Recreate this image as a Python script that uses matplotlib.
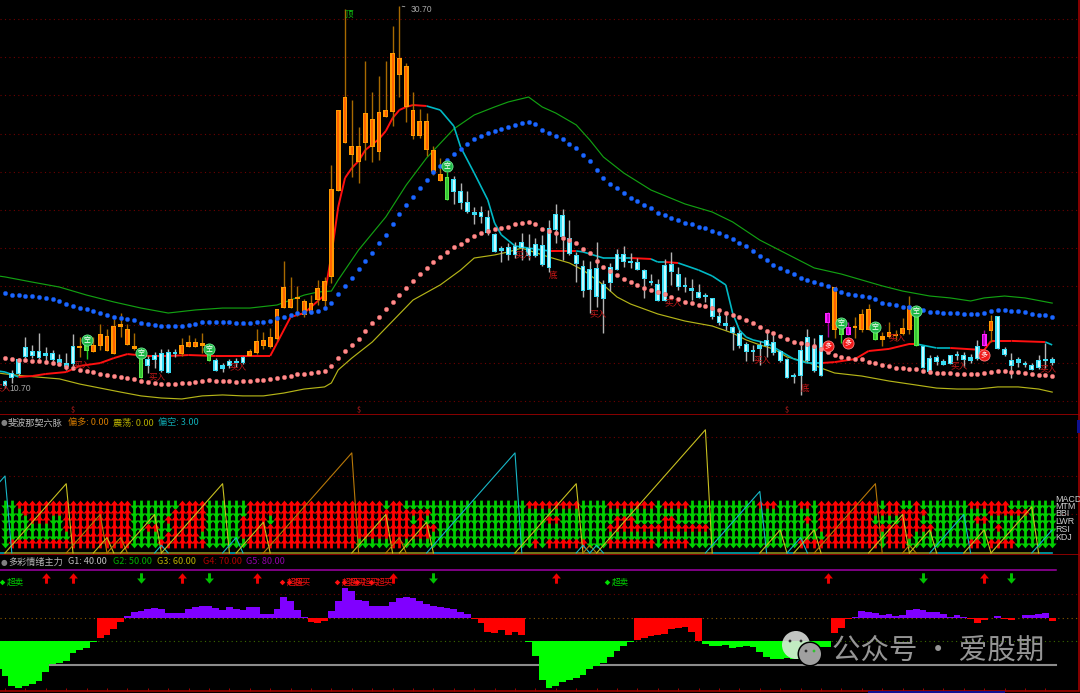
import matplotlib
matplotlib.use('Agg')
import matplotlib.pyplot as plt
import numpy as np
from matplotlib.collections import LineCollection
from matplotlib.path import Path

plt.rcParams['font.family'] = ['Noto Sans CJK SC', 'DejaVu Sans']

# candles, one value per bar
opens = [11.05, 11.47, 12.20, 12.83, 12.62, 12.62, 12.52, 12.52, 12.20, 11.99,
         12.88, 12.78, 12.94, 12.57, 12.88, 12.62, 12.46, 13.88, 12.94, 12.73,
         12.25, 12.20, 12.41, 12.52, 12.57, 12.52, 12.46, 12.83, 12.83, 12.88,
         12.52, 12.15, 11.89, 12.10, 12.04, 12.31, 12.36, 12.52, 12.88, 12.83,
         13.25, 14.87, 14.87, 15.34, 14.51, 14.61, 15.29, 15.24, 16.50, 21.00,
         23.51, 22.88, 22.52, 23.51, 23.30, 23.04, 24.87, 25.14, 27.07, 25.40,
         23.88, 23.88, 23.15, 21.99, 21.52, 21.73, 21.63, 21.00, 20.42, 19.90,
         19.90, 19.64, 18.75, 18.01, 18.07, 18.12, 18.33, 18.01, 18.22, 18.17,
         19.06, 19.79, 19.74, 18.54, 17.65, 17.07, 16.92, 16.97, 16.13, 17.02,
         17.70, 17.70, 17.33, 17.28, 16.86, 16.29, 16.13, 17.12, 17.18, 16.65,
         16.03, 15.92, 15.71, 15.50, 15.40, 14.45, 14.09, 13.88, 13.56, 12.99,
         12.67, 12.94, 13.20, 13.09, 12.62, 12.20, 11.31, 12.67, 13.35, 12.88,
         13.46, 14.61, 13.72, 13.83, 13.88, 13.83, 13.72, 13.72, 13.62, 13.20,
         13.35, 13.41, 13.51, 13.72, 14.51, 12.88, 12.25, 12.31, 12.10, 12.41,
         12.41, 12.41, 12.31, 12.88, 13.51, 13.67, 14.45, 12.73, 12.15, 12.20,
         11.99, 11.89, 12.15, 12.20, 12.20]
closes = [10.79, 11.21, 11.42, 12.31, 12.36, 12.25, 12.36, 12.15, 11.99, 11.78,
          11.94, 12.83, 12.62, 12.94, 13.51, 13.41, 13.93, 14.03, 13.77, 12.88,
          11.21, 11.84, 12.15, 11.57, 11.47, 12.46, 12.94, 13.09, 13.09, 13.04,
          12.10, 11.57, 11.68, 11.84, 11.99, 11.99, 12.62, 13.15, 13.20, 13.35,
          14.82, 15.97, 15.34, 15.40, 15.24, 15.13, 15.92, 16.29, 21.10, 25.24,
          25.92, 23.36, 23.36, 25.08, 24.77, 25.14, 25.24, 28.22, 27.96, 27.54,
          25.24, 24.66, 24.66, 23.15, 21.89, 20.53, 20.95, 20.37, 19.90, 19.74,
          19.64, 18.80, 17.81, 17.86, 17.65, 17.65, 18.01, 17.60, 17.60, 17.12,
          16.97, 18.96, 18.59, 17.70, 17.18, 15.76, 15.82, 15.45, 15.34, 16.18,
          16.86, 17.28, 17.23, 16.86, 16.39, 16.18, 15.24, 15.24, 16.76, 15.97,
          15.97, 15.76, 15.40, 15.45, 14.40, 14.09, 13.93, 13.56, 12.88, 12.57,
          12.57, 12.73, 12.88, 12.52, 12.10, 11.21, 11.26, 11.31, 12.10, 11.57,
          11.31, 14.09, 15.97, 13.46, 13.46, 13.93, 14.56, 14.82, 13.20, 13.41,
          13.62, 13.46, 13.83, 14.98, 12.88, 11.73, 11.52, 12.04, 11.89, 11.94,
          12.36, 12.15, 12.10, 12.20, 12.88, 14.19, 12.73, 12.41, 11.84, 11.99,
          11.89, 11.63, 11.73, 12.10, 11.99]
highs = [11.10, 11.63, 12.25, 13.35, 12.94, 13.56, 12.83, 12.67, 12.46, 12.52,
         13.51, 13.35, 12.94, 13.35, 14.03, 13.77, 14.30, 14.61, 14.03, 13.56,
         12.25, 12.36, 12.57, 12.73, 12.73, 12.73, 13.30, 13.46, 13.30, 13.56,
         12.52, 12.25, 11.99, 12.20, 12.25, 12.36, 12.73, 13.77, 13.62, 13.83,
         14.82, 17.33, 16.50, 16.03, 15.34, 15.55, 16.34, 16.50, 22.36, 25.24,
         30.53, 25.76, 24.35, 27.81, 26.18, 27.02, 27.81, 29.64, 30.70, 27.70,
         26.18, 25.29, 25.08, 23.36, 22.73, 21.99, 21.78, 21.42, 21.00, 20.16,
         20.21, 20.00, 18.80, 18.12, 18.28, 18.33, 18.80, 18.75, 18.54, 18.70,
         19.48, 20.32, 20.06, 19.48, 17.81, 17.39, 17.33, 18.33, 16.34, 17.23,
         17.96, 18.12, 17.75, 17.49, 16.92, 16.65, 16.39, 17.44, 17.81, 17.02,
         16.50, 16.39, 16.13, 15.66, 15.40, 14.66, 14.61, 13.93, 13.72, 13.09,
         12.94, 13.15, 13.72, 13.62, 12.67, 12.25, 11.47, 12.94, 13.77, 13.30,
         13.46, 14.66, 15.97, 13.83, 14.14, 14.40, 14.82, 15.08, 13.62, 13.62,
         14.14, 13.72, 14.35, 15.50, 14.51, 12.88, 12.41, 12.41, 12.20, 12.41,
         12.62, 12.57, 12.46, 13.20, 13.72, 14.51, 14.45, 12.83, 12.52, 12.31,
         12.10, 11.99, 12.41, 13.04, 12.31]
lows = [10.70, 10.95, 11.37, 12.25, 12.25, 12.20, 11.99, 11.99, 11.89, 11.63,
        11.73, 12.31, 12.20, 12.57, 12.67, 12.62, 12.46, 13.35, 12.94, 12.67,
        11.21, 11.47, 11.73, 11.52, 11.47, 12.31, 12.36, 12.83, 12.83, 12.52,
        12.10, 11.57, 11.52, 11.73, 11.78, 11.94, 12.36, 12.46, 12.73, 12.78,
        13.20, 14.87, 14.87, 14.45, 14.40, 14.56, 15.03, 14.93, 16.18, 21.00,
        23.51, 21.73, 21.42, 22.62, 22.52, 22.62, 24.87, 24.40, 25.92, 24.61,
        23.72, 23.77, 22.83, 21.84, 21.52, 20.53, 20.32, 20.06, 19.85, 19.27,
        19.32, 18.70, 17.81, 17.28, 17.39, 17.49, 17.39, 17.39, 17.54, 17.07,
        16.76, 18.28, 17.39, 17.65, 16.23, 15.45, 14.61, 14.93, 13.56, 15.76,
        16.86, 17.02, 16.97, 16.86, 15.40, 16.08, 15.24, 15.24, 16.08, 15.82,
        15.71, 15.29, 15.40, 15.19, 14.30, 13.98, 13.72, 12.67, 12.78, 12.10,
        12.10, 11.89, 12.31, 12.41, 12.04, 11.21, 10.95, 10.32, 12.04, 11.52,
        11.31, 13.35, 13.30, 13.04, 13.46, 13.30, 13.62, 13.72, 13.20, 12.88,
        13.30, 13.20, 13.46, 13.51, 12.88, 11.73, 11.52, 11.89, 11.89, 11.94,
        12.15, 11.78, 11.99, 12.15, 12.88, 13.09, 12.73, 12.36, 11.21, 11.78,
        11.78, 11.63, 11.68, 11.73, 11.89]
green_bars = [12, 20, 30, 65, 123, 128, 134]
magenta_bars = [121, 124, 144]

# dotted channels, one value per bar
blue_dots = [15.66, 15.55, 15.55, 15.50, 15.50, 15.45, 15.40, 15.34, 15.24, 15.08,
             14.98, 14.87, 14.82, 14.72, 14.61, 14.51, 14.40, 14.35, 14.30, 14.24,
             14.09, 14.03, 13.98, 13.93, 13.93, 13.93, 13.93, 13.98, 14.03, 14.14,
             14.14, 14.14, 14.14, 14.14, 14.09, 14.09, 14.09, 14.14, 14.14, 14.19,
             14.35, 14.40, 14.51, 14.61, 14.66, 14.66, 14.72, 14.87, 15.13, 15.61,
             16.03, 16.44, 16.92, 17.33, 17.75, 18.28, 18.70, 19.27, 19.79, 20.27,
             20.68, 21.16, 21.58, 21.99, 22.31, 22.62, 22.94, 23.20, 23.46, 23.72,
             23.88, 24.04, 24.14, 24.25, 24.35, 24.46, 24.56, 24.61, 24.51, 24.19,
             24.04, 23.88, 23.72, 23.46, 23.25, 22.88, 22.57, 22.10, 21.68, 21.37,
             21.16, 20.89, 20.63, 20.48, 20.27, 20.11, 19.85, 19.74, 19.59, 19.48,
             19.32, 19.27, 19.11, 19.06, 18.90, 18.80, 18.64, 18.49, 18.28, 18.12,
             17.86, 17.60, 17.39, 17.12, 16.97, 16.81, 16.65, 16.44, 16.34, 16.23,
             16.13, 16.03, 15.87, 15.71, 15.61, 15.55, 15.50, 15.45, 15.34, 15.13,
             15.08, 15.03, 14.93, 14.93, 14.87, 14.77, 14.66, 14.66, 14.61, 14.61,
             14.61, 14.56, 14.56, 14.56, 14.61, 14.72, 14.77, 14.77, 14.72, 14.72,
             14.66, 14.56, 14.51, 14.51, 14.40]
pink_dots = [12.25, 12.20, 12.15, 12.15, 12.10, 12.10, 12.04, 11.99, 11.94, 11.78,
             11.73, 11.63, 11.57, 11.52, 11.42, 11.37, 11.31, 11.26, 11.21, 11.16,
             11.05, 11.00, 10.95, 10.89, 10.89, 10.89, 10.95, 10.95, 11.00, 11.05,
             11.10, 11.05, 11.05, 11.05, 11.00, 11.05, 11.05, 11.10, 11.10, 11.16,
             11.21, 11.26, 11.31, 11.42, 11.42, 11.47, 11.52, 11.57, 11.84, 12.25,
             12.62, 12.94, 13.25, 13.67, 14.09, 14.40, 14.82, 15.19, 15.55, 15.92,
             16.29, 16.65, 16.97, 17.28, 17.54, 17.81, 18.07, 18.22, 18.43, 18.64,
             18.80, 18.90, 19.01, 19.06, 19.11, 19.27, 19.32, 19.38, 19.27, 19.01,
             18.90, 18.80, 18.54, 18.43, 18.28, 17.96, 17.75, 17.33, 17.02, 16.81,
             16.60, 16.39, 16.23, 16.08, 15.92, 15.82, 15.71, 15.61, 15.45, 15.34,
             15.19, 15.13, 15.03, 14.98, 14.87, 14.77, 14.61, 14.51, 14.40, 14.24,
             14.09, 13.88, 13.67, 13.56, 13.41, 13.25, 13.09, 13.04, 12.99, 12.88,
             12.73, 12.57, 12.41, 12.31, 12.25, 12.20, 12.20, 12.04, 11.99, 11.89,
             11.84, 11.73, 11.73, 11.68, 11.68, 11.57, 11.52, 11.47, 11.47, 11.47,
             11.42, 11.42, 11.42, 11.42, 11.47, 11.52, 11.57, 11.57, 11.52, 11.52,
             11.47, 11.42, 11.37, 11.37, 11.31]

# channel borders and the midline, read at the bars listed
upper_idx = [-1, 0, 4, 8, 12, 16, 20, 24, 28, 32, 36, 40, 44, 46, 48, 49, 52, 56, 59, 62, 66,
             69, 72, 74, 77, 79, 81, 84, 86, 88, 91, 95, 100, 104, 107, 111, 115, 119,
             123, 126, 129, 132, 136, 139, 142, 144, 147, 150, 154]
upper_band = [16.55, 16.50, 16.23, 15.97, 15.55, 15.19, 14.87, 14.61, 14.77, 14.87, 14.87, 15.03,
              15.55, 15.71, 15.76, 16.34, 17.91, 19.64, 21.31, 22.73, 24.25, 24.98, 25.40,
              25.66, 25.92, 25.40, 25.08, 24.46, 23.67, 22.78, 21.94, 21.05, 20.32, 19.90,
              19.38, 18.43, 17.70, 16.97, 16.65, 16.34, 16.03, 15.76, 15.50, 15.40, 15.24,
              15.40, 15.50, 15.40, 15.13]
lower_idx = [-1, 0, 3, 8, 11, 14, 17, 20, 23, 26, 29, 32, 35, 38, 41, 44, 47, 48, 49, 51, 54,
             60, 64, 67, 69, 72, 74, 76, 80, 83, 85, 88, 90, 92, 96, 100, 104, 107, 109,
             111, 113, 115, 118, 120, 122, 126, 130, 134, 137, 140, 143, 146, 149, 152, 154]
lower_band = [11.47, 11.42, 11.31, 11.16, 10.89, 10.68, 10.47, 10.27, 10.16, 10.11, 10.27, 10.32,
              10.27, 10.27, 10.42, 10.63, 10.74, 10.95, 11.63, 12.25, 13.09, 15.29, 16.08,
              16.86, 17.49, 17.65, 17.81, 18.01, 17.54, 17.23, 16.86, 16.08, 15.45, 15.08,
              14.56, 14.19, 13.93, 13.56, 13.20, 12.94, 12.73, 12.31, 12.04, 11.73, 11.47,
              11.31, 11.05, 10.84, 10.68, 10.63, 10.63, 10.74, 10.74, 10.63, 10.47]
mid_idx = [-1, 0, 2, 4, 6, 9, 11, 14, 16, 18, 21, 24, 27, 31, 34, 39, 40, 42, 44, 47, 48, 49,
           50, 51, 52, 53, 55, 56, 57, 58, 59, 60, 62, 64, 66, 67, 69, 71, 72, 73, 75, 77,
           80, 84, 85, 88, 92, 95, 96, 97, 99, 102, 104, 106, 107, 108, 109, 110, 112, 114,
           116, 118, 120, 122, 125, 127, 130, 133, 134, 137, 139, 144, 145, 148, 153, 154]
mid_line = [11.57, 11.52, 11.26, 11.31, 11.42, 11.52, 11.84, 11.99, 12.25, 12.46, 12.36, 12.36,
            12.41, 12.36, 12.36, 12.36, 13.04, 14.40, 14.61, 15.55, 17.65, 20.16, 21.68,
            22.20, 22.57, 23.15, 23.72, 24.14, 24.82, 25.24, 25.40, 25.50, 25.45, 25.24,
            24.40, 23.30, 21.94, 20.53, 19.32, 18.70, 18.12, 18.01, 17.86, 17.86, 17.81,
            17.49, 17.49, 17.44, 17.28, 17.28, 17.23, 16.86, 16.55, 16.08, 14.61, 13.72,
            13.35, 13.20, 13.04, 12.62, 12.20, 11.99, 11.99, 12.04, 12.20, 12.62, 12.73,
            12.99, 12.99, 12.78, 12.78, 12.67, 13.15, 13.15, 13.09, 12.94]
mid_red_spans = [(2, 62), (80, 84), (92, 95), (97, 99), (120, 134), (139, 153)]

# signal labels on the main panel
buy_idx = [11.3, 22.4, 34.3, -0.4, 76.2, 87.2, 98.2, 111.3, 131.2, 140.3, 153.4]
buy_price = [11.89, 11.26, 11.78, 10.68, 17.65, 14.56, 15.13, 12.15, 13.30, 11.84, 11.68]
bottom_idx = [80.6, 117.6]
bottom_price = [16.60, 10.68]
short_idx = [12, 20, 30, 65, 123, 128, 134]
short_price = [13.20, 12.52, 12.73, 22.31, 14.09, 13.88, 14.72]
long_idx = [121, 124, 144]
long_price = [12.88, 13.04, 12.41]
dollar_idx = [10, 52, 115]

# six-vein panel: arrow rows as run lengths, (count, U or D)
row_labels = ['MACD', 'MTM', 'BBI', 'LWR', 'RSI', 'KDJ']
row_levels = [6.23, 5.19, 4.29, 3.25, 2.21, 1.30]
row_runs = [
    [(2, 'D'), (17, 'U'), (7, 'D'), (4, 'U'), (6, 'D'), (20, 'U'), (1, 'D'), (2, 'U'), (18, 'D'), (8, 'U'),
     (4, 'D'), (7, 'U'), (1, 'D'), (4, 'U'), (10, 'D'), (3, 'U'), (3, 'D'), (2, 'U'), (1, 'D'), (9, 'U'),
     (1, 'D'), (2, 'U'), (2, 'D'), (1, 'U'), (7, 'D'), (6, 'U'), (7, 'D')],
    [(3, 'D'), (16, 'U'), (6, 'D'), (5, 'U'), (6, 'D'), (27, 'U'), (57, 'D'), (16, 'U'), (9, 'D'), (6, 'U'), (4, 'D')],
    [(4, 'D'), (3, 'U'), (2, 'D'), (10, 'U'), (5, 'D'), (6, 'U'), (5, 'D'), (4, 'U'), (1, 'D'), (20, 'U'),
     (1, 'D'), (1, 'U'), (18, 'D'), (2, 'U'), (8, 'D'), (3, 'U'), (4, 'D'), (2, 'U'), (19, 'D'), (1, 'U'),
     (1, 'D'), (8, 'U'), (4, 'D'), (3, 'U'), (8, 'D'), (2, 'U'), (10, 'D')],
    [(9, 'D'), (10, 'U'), (2, 'D'), (2, 'U'), (2, 'D'), (5, 'U'), (5, 'D'), (29, 'U'), (25, 'D'), (15, 'U'),
     (16, 'D'), (17, 'U'), (9, 'D'), (1, 'U'), (8, 'D')],
    [(10, 'D'), (9, 'U'), (5, 'D'), (5, 'U'), (6, 'D'), (28, 'U'), (58, 'D'), (8, 'U'), (1, 'D'), (4, 'U'), (21, 'D')],
    [(1, 'D'), (18, 'U'), (4, 'D'), (7, 'U'), (6, 'D'), (16, 'U'), (5, 'D'), (2, 'U'), (19, 'D'), (1, 'U'),
     (1, 'D'), (6, 'U'), (3, 'D'), (7, 'U'), (1, 'D'), (4, 'U'), (16, 'D'), (12, 'U'), (1, 'D'), (3, 'U'),
     (9, 'D'), (2, 'U'), (1, 'D'), (4, 'U'), (6, 'D')],
]

# bar counters that ramp up and drop back to zero: start bar, peak bar, colour key
saw_start = [-10, 0, 9, 13, 15, 17, 22, 23, 32, 34, 38, 51, 56, 58, 62, 75, 84, 85, 86, 87, 103,
             111, 115, 116, 119, 127, 132, 133, 136, 141, 145, 151]
saw_peak = [0, 9, 14, 15, 17, 22, 23, 32, 34, 38, 51, 56, 58, 62, 75, 84, 85, 86, 87, 103, 111,
            114, 117, 119, 128, 132, 133, 136, 141, 144, 151, 154]
saw_kind = ['c', 'y', 'o', 'y', 'o', 'y', 'c', 'y', 'c', 'y', 'o', 'y', 'o', 'y', 'c', 'y', 'c', 'o',
            'c', 'y', 'c', 'y', 'c', 'y', 'o', 'y', 'o', 'y', 'c', 'y', 'y', 'c']

# sentiment histogram, one value per bar, plus the part bar cut off at the left edge
mood_edge = 48.4
mood = [45.4, 41.3, 40.2, 41.2, 41.9, 43.4, 47.2, 50.4, 51.0, 51.7,
        55.2, 56.3, 57.3, 59.6, 61.5, 62.7, 65.2, 68.3, 70.8, 72.5,
        72.8, 73.6, 74.2, 73.5, 72.0, 72.2, 72.2, 73.9, 74.5, 74.8,
        75.0, 74.2, 73.2, 74.5, 73.9, 73.1, 74.5, 74.5, 71.5, 71.5,
        73.5, 78.7, 77.0, 73.2, 70.3, 68.3, 67.9, 68.7, 72.8, 77.0,
        82.5, 81.4, 77.7, 77.0, 75.0, 74.8, 75.0, 76.6, 78.3, 78.7,
        78.4, 77.0, 75.7, 74.8, 74.5, 74.2, 73.5, 72.4, 71.5, 69.4,
        67.6, 64.1, 63.5, 64.8, 62.8, 63.8, 62.7, 59.6, 53.8, 43.7,
        40.5, 41.4, 42.8, 43.7, 44.7, 45.8, 48.3, 49.7, 51.0, 53.3,
        55.9, 58.2, 59.9, 60.8, 61.4, 62.2, 62.7, 63.0, 65.2, 65.5,
        66.0, 64.1, 60.1, 58.9, 58.3, 58.3, 58.7, 57.3, 57.6, 58.3,
        57.6, 55.6, 53.4, 52.4, 52.4, 53.1, 52.8, 52.8, 54.2, 55.6,
        57.6, 57.6, 63.5, 65.8, 69.4, 70.3, 72.8, 72.5, 72.0, 71.1,
        71.5, 70.8, 71.1, 73.1, 73.5, 73.1, 72.4, 72.4, 71.4, 70.5,
        71.0, 70.3, 69.4, 67.7, 69.0, 69.7, 70.7, 69.4, 69.0, 70.1,
        71.1, 71.1, 71.8, 72.2, 68.6]
up_signals = [6, 10, 26, 37, 57, 81, 121, 144]
down_signals = [20, 30, 63, 135, 148]
oversold_idx = [-0.5, 88.5]
overbought_idx = [41, 42, 49, 50, 52, 54]

n = len(opens)
for a in (closes, highs, lows, blue_dots, pink_dots, mood):
    assert len(a) == n, len(a)
assert len(upper_idx) == len(upper_band) and len(lower_idx) == len(lower_band) and len(mid_idx) == len(mid_line)
assert len(saw_start) == len(saw_peak) == len(saw_kind)
bars = np.arange(n)
opens, closes, highs, lows = map(np.array, (opens, closes, highs, lows))

RED_DARK = '#a00000'
DOT = '#6e0000'
W, H = 1080, 693
right_px = 1078.5
xlim = (-5 / 6.8, (right_px - 5) / 6.8)

fig = plt.figure(figsize=(W / 100, H / 100), dpi=100, facecolor='black')


def panel(top, bottom, ylim):
    ax = fig.add_axes([0, 1 - bottom / H, right_px / W, (bottom - top) / H], facecolor='black')
    ax.set_xlim(*xlim)
    ax.set_ylim(*ylim)
    ax.set_xticks([])
    ax.set_yticks([])
    for side in ('left', 'top'):
        ax.spines[side].set_visible(False)
    for side in ('right', 'bottom'):
        ax.spines[side].set_color(RED_DARK)
        ax.spines[side].set_linewidth(1.2)
    return ax


def label(x, y, s, color, size=6.6, **kw):
    fig.text(x / W, 1 - y / H, s, color=color, fontsize=size, va='center', ha='left', **kw)


ax1 = panel(0, 415, (9.27, 31.0))
ax2 = panel(415, 555, (-0.26, 17.92))
ax3 = panel(555, 691, (39.1, 96.5))

# ---- main panel
for p in range(10, 31, 2):
    ax1.axhline(p, color=DOT, lw=0.8, ls=(0, (1, 3)), zorder=0)

ax1.plot(upper_idx, upper_band, color='#12a012', lw=0.85, zorder=1)
ax1.plot(lower_idx, lower_band, color='#b4b418', lw=0.85, zorder=1)

# midline goes red or cyan depending on the span
segs, seg_cols, seg_w = [], [], []
for k in range(len(mid_idx) - 1):
    a, b = mid_idx[k], mid_idx[k + 1]
    red = any(s <= a and b <= e for s, e in mid_red_spans)
    segs.append([(a, mid_line[k]), (b, mid_line[k + 1])])
    seg_cols.append('#ff1010' if red else '#00b8c4')
    seg_w.append(1.4 if red else 1.2)
ax1.add_collection(LineCollection(segs, colors=seg_cols, linewidths=seg_w, zorder=2))

kinds = np.where(closes >= opens, 'o', 'c').astype('<U1')
kinds[green_bars] = 'g'
kinds[magenta_bars] = 'm'
wick_col = {'o': '#a86a00', 'c': '#b4b4b4', 'g': '#20d020', 'm': '#a000a0'}
edge_col = {'o': '#ff9a00', 'c': '#38dcf4', 'g': '#58e848', 'm': '#ff20ff'}
core_col = {'o': '#ff5a00', 'c': '#e4ffff', 'g': '#30c030', 'm': '#b000c0'}
for kind in 'ocgm':
    m = kinds == kind
    x = bars[m]
    top = np.maximum(opens[m], closes[m])
    bot = np.minimum(opens[m], closes[m])
    ax1.vlines(x, lows[m], highs[m], color=wick_col[kind], lw=1.0, zorder=3)
    h = np.maximum(top - bot, 0.09)
    ax1.bar(x, h, bottom=bot, width=0.72, color=edge_col[kind], linewidth=0, zorder=3.2)
    tall = h > 0.25
    ax1.vlines(x[tall], bot[tall] + 0.04, (bot + h)[tall] - 0.04, color=core_col[kind], lw=1.2, zorder=3.3)

ax1.plot(bars, blue_dots, ls='', marker='o', ms=3.2, mfc='#1c68ff', mec='#0c48d0', mew=0.3, zorder=4)
ax1.plot(bars, pink_dots, ls='', marker='o', ms=3.2, mfc='#ff8c8c', mec='#e06060', mew=0.3, zorder=4)

for x, y in zip(buy_idx, buy_price):
    ax1.text(x, y, '买入', color='#c01818', fontsize=6.2, ha='center', va='center', zorder=5, clip_on=False)
for x, y in zip(bottom_idx, bottom_price):
    ax1.text(x, y, '底', color='#d01818', fontsize=6.2, ha='center', va='center', zorder=5)
ax1.text(50.6, 30.27, '顶', color='#10c010', fontsize=6.2, ha='center', va='center', zorder=5)

for x, y in zip(short_idx, short_price):
    ax1.plot(x, y, marker='o', ms=8, mfc='#20b848', mec='#70e890', mew=0.6, zorder=6)
    ax1.text(x, y, '空', color='white', fontsize=5, ha='center', va='center', zorder=7)
for x, y in zip(long_idx, long_price):
    ax1.plot(x, y, marker='o', ms=8, mfc='#f01818', mec='#ff8080', mew=0.6, zorder=6)
    ax1.text(x, y, '多', color='white', fontsize=5, ha='center', va='center', zorder=7)
for x in dollar_idx:
    ax1.text(x, 9.52, '$', color='#d02020', fontsize=5.2, ha='center', va='center', zorder=5)

ax1.annotate('30.70', xy=(58, 30.70), xytext=(11, -4), textcoords='offset pixels', color='#a8a8a8',
             fontsize=6.2, va='center', arrowprops=dict(arrowstyle='-', color='#a8a8a8', lw=0.6), zorder=8,
             family=['Liberation Sans'])
ax1.text(0.7, 10.66, '10.70', color='#a8a8a8', fontsize=6.2, va='center', zorder=8, family=['Liberation Sans'])

# ---- six-vein panel
for c in (5, 10, 15):
    ax2.axhline(c, color=DOT, lw=0.8, ls=(0, (1, 3)), zorder=0)

up_arrow = Path([(0, 1), (0.85, 0.0), (0.28, 0.0), (0.28, -1), (-0.28, -1), (-0.28, 0.0), (-0.85, 0.0), (0, 1)], closed=True)
down_arrow = Path([(0, -1), (0.85, 0.0), (0.28, 0.0), (0.28, 1), (-0.28, 1), (-0.28, 0.0), (-0.85, 0.0), (0, -1)], closed=True)
for level, runs in zip(row_levels, row_runs):
    flags = ''.join(f * c for c, f in runs)
    assert len(flags) == n, len(flags)
    flags = np.array(list(flags))
    ups, downs = bars[flags == 'U'], bars[flags == 'D']
    ax2.plot(downs, [level] * len(downs), ls='', marker=down_arrow, ms=7.0, mfc='#00d000', mec='none', zorder=2)
    ax2.plot(ups, [level] * len(ups), ls='', marker=up_arrow, ms=7.0, mfc='#ff0000', mec='none', zorder=2)

ax2.plot([xlim[0], 154], [0, 0], color='#00a8b0', lw=1.2, zorder=3)
saw_col = {'c': '#18b8c8', 'y': '#c8c020', 'o': '#b87808'}
for s, p, k in zip(saw_start, saw_peak, saw_kind):
    last = min(p + 1, 154)
    drop = 0 if p < 154 else p - s
    ax2.plot([s, p, last], [0, p - s, drop], color=saw_col[k], lw=0.8, zorder=4)
    if k != 'c':
        ax2.plot([s, last], [0, 0], color='#8a7000', lw=1.2, zorder=3.5)

for name, y in zip(row_labels, (499, 506.5, 514, 522, 529.5, 537)):
    label(1055, y, name, '#d0d0d0', size=6.4, family=['Liberation Sans'])

# ---- sentiment panel
for v, col in ((80, DOT), (70, '#8a5a00'), (60, '#3c6a00')):
    ax3.axhline(v, color=col, lw=0.8, ls=(0, (1, 3)), zorder=0)
ax3.plot([xlim[0], 154.5], [90, 90], color='#a000a8', lw=1.1, zorder=1)
ax3.plot([xlim[0], 154.5], [50, 50], color='#8c8c8c', lw=1.5, zorder=1)

mood = np.array(mood)
m = mood >= 70
ax3.bar(bars[m], mood[m] - 70, bottom=70, width=1.0, color='#8000ff', linewidth=0, zorder=2)
m = (mood < 70) & (mood >= 60)
ax3.bar(bars[m], mood[m] - 70, bottom=70, width=1.0, color='#ff0000', linewidth=0, zorder=2)
m = mood < 60
ax3.bar(bars[m], mood[m] - 60, bottom=60, width=1.0, color='#00ff00', linewidth=0, zorder=2)
ax3.bar(-1, mood_edge - 60, bottom=60, width=1.0, color='#00ff00', linewidth=0, zorder=2)

ax3.set_xticks(np.arange(0, n, 3))
ax3.tick_params(axis='x', direction='in', length=2, color=RED_DARK, labelbottom=False, width=0.7)

ax3.plot(up_signals, [87] * len(up_signals), ls='', marker=up_arrow, ms=7.5, mfc='#f00000', mec='none', zorder=5)
ax3.plot(down_signals, [87] * len(down_signals), ls='', marker=down_arrow, ms=7.5, mfc='#00c000', mec='none', zorder=5)
for x in oversold_idx:
    ax3.plot(x, 85.1, marker='D', ms=2.8, mfc='#00e000', mec='none', zorder=5)
    ax3.text(x + 0.7, 85.1, '超卖', color='#00d000', fontsize=6.2, va='center', zorder=5)
for x in overbought_idx:
    ax3.plot(x - 0.2, 85.1, marker='D', ms=2.8, mfc='#ff1010', mec='none', zorder=5)
    ax3.text(x + 0.5, 85.1, '超买', color='#f01010', fontsize=6.2, va='center', zorder=5)

# ---- panel titles
for ty in (423, 562):
    fig.text(4 / W, 1 - ty / H, '●', color='#808080', fontsize=5.5, ha='center', va='center',
             family=['DejaVu Sans'])
label(8, 423, '斐波那契六脉', '#b8b8b8')
label(68, 423, '偏多: 0.00', '#d07800')
label(113, 423, '震荡: 0.00', '#b0a800')
label(158, 423, '偏空: 3.00', '#10a8b0')
label(8, 562, '多彩情绪主力', '#b8b8b8')
label(68, 562, 'G1: 40.00', '#c0c0c0')
label(113, 562, 'G2: 50.00', '#00b000')
label(157, 562, 'G3: 60.00', '#b8b000')
label(203, 562, 'G4: 70.00', '#b00000')
label(246, 562, 'G5: 80.00', '#9000a8')

# ---- watermark and window edge bits
ov = fig.add_axes([0, 0, 1, 1], facecolor='none', zorder=20)
ov.set_xlim(0, W)
ov.set_ylim(H, 0)
ov.axis('off')
ov.add_patch(plt.Circle((796, 645), 14, color='#e4e8e4', alpha=0.85, lw=0))
ov.add_patch(plt.Circle((810, 654), 12.5, color='black', lw=0))
ov.add_patch(plt.Circle((810, 654), 11, color='#a0a0a0', lw=0))
for cx, cy, col in ((790, 641, '#303030'), (801, 641, '#303030'), (806, 651, '#303030'), (814, 651, '#30c030')):
    ov.add_patch(plt.Circle((cx, cy), 1.4, color=col, lw=0))
ov.text(832, 651, '公众号 · 爱股期', color='#959595', fontsize=20.5, va='center', ha='left')
ov.add_patch(plt.Rectangle((1077, 420), 3, 13, color='#101090', lw=0))
ov.add_patch(plt.Rectangle((868, 691), 137, 2, color='#101090', lw=0))

fig.savefig('out.png', dpi=100, facecolor='black')
